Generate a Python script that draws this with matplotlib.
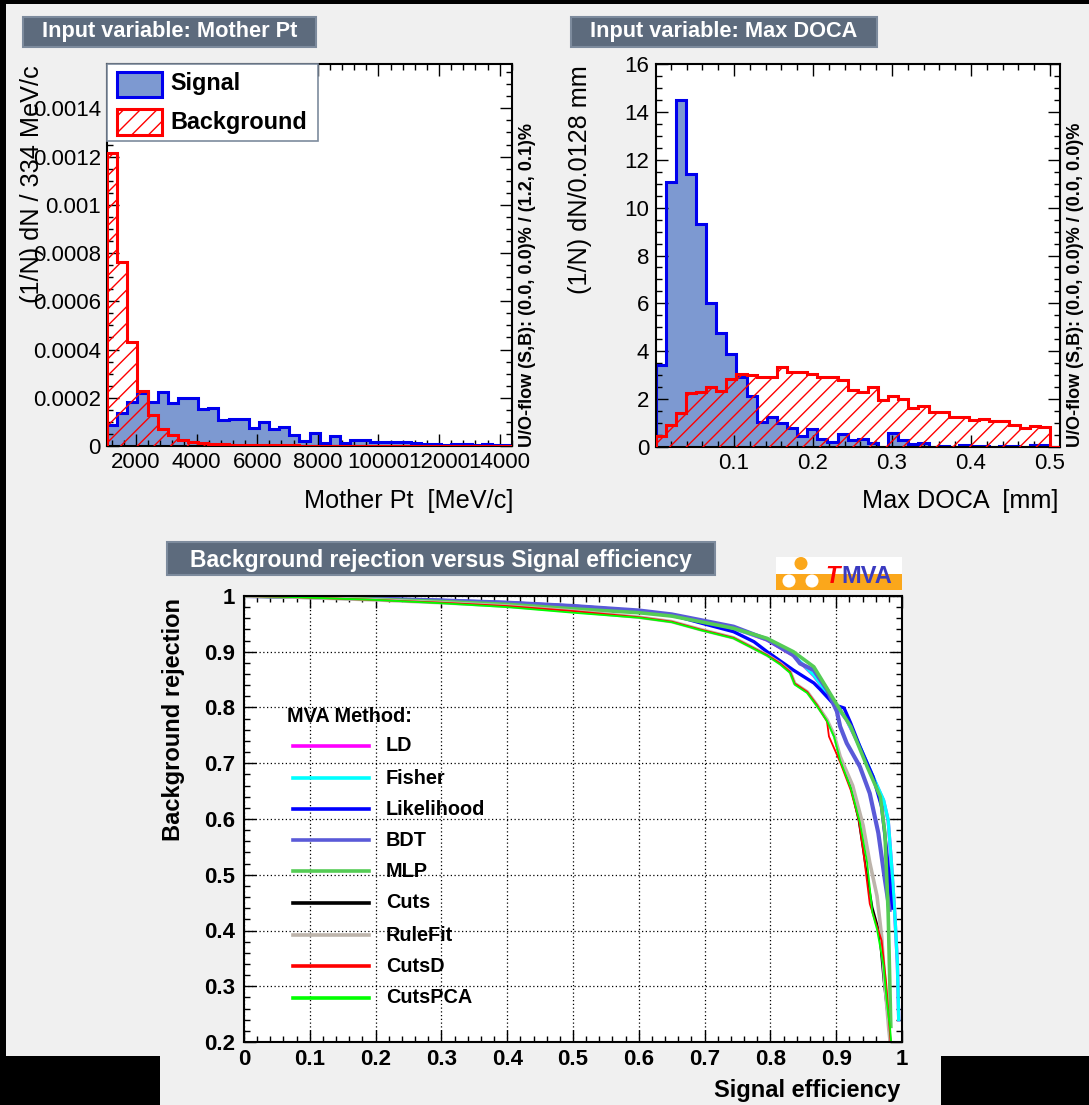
import numpy as np
import matplotlib
matplotlib.use("Agg")
import matplotlib.pyplot as plt
from matplotlib.patches import Rectangle, Ellipse
from matplotlib.ticker import MultipleLocator, FuncFormatter

# ---------------- data ----------------
pt_range = (1045, 14405)          # 40 bins of 334 MeV/c
pt_signal = [0.000087, 0.000138, 0.000184, 0.000218, 0.000184, 0.000225, 0.000177, 0.000198,
             0.000198, 0.000152, 0.000156, 0.000108, 0.000112, 0.000112, 0.000073, 0.000098,
             0.000069, 0.000080, 0.000046, 0.000021, 0.000052, 0.000014, 0.000043, 0.000011,
             0.000025, 0.000025, 0.000018, 0.000018, 0.000015, 0.000018, 0.000011, 0.000008,
             0.000007, 0.000006, 0.000008, 0.000007, 0.000005, 0.000007, 0.000004, 0.000003]
pt_background = [0.001213, 0.000764, 0.000432, 0.000228, 0.000128, 0.000069, 0.000046, 0.000025,
                 0.000016, 0.000012, 0.000009, 0.000007, 0.000006, 0.000005, 0.000004, 0.000004,
                 0.000003, 0.000003, 0.000003, 0.000002, 0.000002, 0.000002, 0.000002, 0.000002,
                 0.000001, 0.000001, 0.000001, 0.000001, 0.000001, 0.000001, 0.000001, 0.000001,
                 0.000001, 0.000001, 0.000001, 0.000001, 0.000001, 0.000001, 0.000001, 0.000001]

doca_range = (0.0006, 0.5126)     # 40 bins of 0.0128 mm
doca_signal = [3.43, 11.09, 14.5, 11.4, 9.3, 6.0, 4.78, 3.87, 2.91, 2.13,
               1.06, 1.24, 0.99, 0.78, 0.46, 0.74, 0.33, 0.22, 0.54, 0.29,
               0.32, 0.15, 0.0, 0.60, 0.29, 0.12, 0.15, 0.02, 0.03, 0.02,
               0.08, 0.05, 0.03, 0.02, 0.04, 0.03, 0.02, 0.07, 0.07, 0.02]
doca_background = [0.46, 0.92, 1.41, 2.24, 2.28, 2.49, 2.34, 2.83, 3.04, 3.01,
                   2.94, 2.94, 3.36, 3.15, 3.15, 3.05, 2.94, 2.94, 2.80, 2.38,
                   2.31, 2.49, 1.96, 2.13, 1.99, 1.62, 1.73, 1.48, 1.45, 1.27,
                   1.27, 1.13, 1.18, 1.09, 1.07, 0.92, 0.78, 0.88, 0.82, 0.0]

methods = ["LD", "Fisher", "Likelihood", "BDT", "MLP", "Cuts", "RuleFit", "CutsD", "CutsPCA"]

fisher_eff = [0, .05, .1, .2, .3, .4, .5, .6, .65, .693, .744, .795, .835, .866, .897, .916,
              .936, .956, .972, .979, .984, .989, .993, .995]
fisher_rej = [1, .999, .998, .995, .991, .987, .981, .972, .965, .955, .942, .922, .894, .858,
              .808, .778, .730, .676, .634, .598, .520, .431, .341, .240]
ld_eff = fisher_eff
ld_rej = [1, .999, .998, .995, .991, .987, .981, .972, .965, .955, .942, .921, .893, .857,
          .807, .777, .729, .675, .633, .597, .519, .430, .340, .240]
lik_eff = [0, .05, .1, .2, .3, .4, .5, .6, .65, .693, .744, .775, .795, .835, .866, .876, .897,
           .912, .922, .936, .956, .969, .976, .981, .984]
lik_rej = [1, .999, .998, .995, .992, .988, .982, .973, .966, .952, .936, .918, .900, .867, .844,
           .832, .805, .799, .772, .730, .676, .622, .550, .491, .440]
bdt_eff = [0, .05, .1, .2, .3, .4, .5, .6, .65, .693, .744, .795, .835, .845, .866, .886, .901,
           .906, .916, .936, .951, .964, .974, .981]
bdt_rej = [1, .999, .998, .995, .992, .988, .982, .974, .967, .957, .945, .922, .894, .879, .867,
           .832, .793, .766, .736, .694, .646, .575, .491, .437]
mlp_eff = [0, .05, .1, .2, .3, .4, .5, .6, .65, .693, .744, .795, .835, .866, .897, .922, .947,
           .967, .974, .979, .983]
mlp_rej = [1, .999, .998, .994, .990, .985, .977, .970, .964, .954, .942, .924, .900, .873, .813,
           .766, .694, .640, .575, .431, .228]
cuts_eff = [0, .05, .1, .2, .3, .4, .5, .6, .65, .693, .744, .795, .815, .830, .837, .856, .871,
            .886, .897, .906, .922, .934, .944, .955, .965, .972, .980, .983]
cuts_rej = [1, .999, .997, .993, .988, .982, .973, .962, .954, .940, .925, .894, .879, .864, .843,
            .828, .804, .778, .748, .706, .658, .598, .520, .442, .400, .310, .226, .195]
rulefit_eff = [0, .05, .1, .2, .3, .4, .5, .6, .65, .693, .744, .795, .815, .830, .837, .856,
               .871, .886, .897, .906, .925, .941, .951, .962, .969, .974, .980, .983]
rulefit_rej = [1, .999, .997, .993, .988, .982, .973, .962, .954, .940, .925, .894, .879, .864,
               .843, .828, .804, .778, .750, .712, .660, .588, .522, .462, .390, .305, .222, .190]
cutsd_eff = [0, .05, .1, .2, .3, .4, .5, .6, .65, .693, .744, .795, .815, .830, .837, .856, .871,
             .886, .889, .906, .922, .934, .941, .946, .951, .959, .969, .976, .981, .983]
cutsd_rej = [1, .999, .997, .993, .988, .982, .973, .962, .954, .940, .925, .894, .879, .864,
             .843, .828, .804, .775, .748, .702, .652, .600, .544, .496, .448, .418, .382, .305,
             .226, .195]
cutspca_eff = [0, .05, .1, .2, .3, .4, .45, .5, .6, .65, .693, .744, .795, .815, .830, .837, .856,
               .871, .886, .897, .906, .922, .936, .947, .955, .962, .972, .977, .982, .984]
cutspca_rej = [1, .999, .997, .993, .987, .980, .975, .970, .961, .953, .939, .924, .893, .877,
               .862, .841, .826, .802, .776, .747, .705, .656, .594, .522, .432, .402, .337,
               .271, .224, .190]

roc_eff = [ld_eff, fisher_eff, lik_eff, bdt_eff, mlp_eff, cuts_eff, rulefit_eff, cutsd_eff, cutspca_eff]
roc_rej = [ld_rej, fisher_rej, lik_rej, bdt_rej, mlp_rej, cuts_rej, rulefit_rej, cutsd_rej, cutspca_rej]

# ---------------- style ----------------
CANVAS = '#f0f0f0'
TITLE_BOX = '#5d6b7d'
TITLE_BORDER = '#7d8b9d'
SIG_FILL = '#7d99d1'
SIG_LINE = '#0000ee'
BKG = '#ff0000'
roc_colors = ['#ff00ff', '#00ffff', '#0000ff', '#5a5ad8', '#55cc55', '#000000', '#bdb4ab', '#ff0000', '#00ff00']
roc_lw = [2.4, 2.4, 2.4, 3.0, 2.6, 1.4, 2.6, 1.3, 1.3]

plt.rcParams['font.family'] = ['Liberation Sans', 'DejaVu Sans']
plt.rcParams['hatch.linewidth'] = 1.0

W, H = 1089, 1105
fig = plt.figure(figsize=(W / 100, H / 100), dpi=100)
fig.patch.set_facecolor(CANVAS)


def fx(px):
    return px / W


def fy(py):
    return 1 - py / H


def frect(x0, y0, x1, y1, **kw):
    fig.add_artist(Rectangle((fx(x0), fy(y1)), (x1 - x0) / W, (y1 - y0) / H,
                             transform=fig.transFigure, **kw))


# black borders of the composite image
frect(0, 0, W, 4, facecolor='black', edgecolor='none')
frect(0, 0, 6, H, facecolor='black', edgecolor='none')
frect(0, 1056, 160, H, facecolor='black', edgecolor='none')
frect(941, 1056, W, H, facecolor='black', edgecolor='none')


def title_box(x0, x1, y0, y1, text, baseline, size):
    frect(x0, y0, x1, y1, facecolor=TITLE_BOX, edgecolor=TITLE_BORDER, lw=1.5)
    fig.text(fx((x0 + x1) / 2), fy(baseline), text, color='white', fontsize=size,
             fontweight='bold', ha='center', va='baseline')


def style_axes(ax):
    ax.set_facecolor('white')
    for s in ax.spines.values():
        s.set_linewidth(1.5)
    ax.tick_params(which='both', direction='in', top=True, right=True, width=1.0, color='black')
    ax.tick_params(which='major', length=8.5)
    ax.tick_params(which='minor', length=4.3)


fmt_g = FuncFormatter(lambda v, p: '%g' % round(v, 8))

# ---------------- top-left: Mother Pt ----------------
title_box(23.4, 315.8, 17, 47, 'Input variable: Mother Pt', 37.3, 15.7)
ax1 = fig.add_axes([fx(107), fy(446), (512 - 107) / W, (446 - 64) / H])
style_axes(ax1)
e1 = np.linspace(pt_range[0], pt_range[1], len(pt_signal) + 1)
ax1.stairs(pt_signal, e1, fill=True, facecolor=SIG_FILL, edgecolor='none', lw=0, zorder=1)
ax1.stairs(pt_signal, e1, color=SIG_LINE, lw=2.2, zorder=2)
ax1.stairs(pt_background, e1, fill=True, facecolor='none', edgecolor=BKG, hatch='//', lw=0, zorder=3)
ax1.stairs(pt_background, e1, color=BKG, lw=2.2, zorder=4)
ax1.set_xlim(*pt_range)
ax1.set_ylim(0, 0.001584)
ax1.xaxis.set_major_locator(MultipleLocator(2000))
ax1.xaxis.set_minor_locator(MultipleLocator(400))
ax1.yaxis.set_major_locator(MultipleLocator(0.0002))
ax1.yaxis.set_minor_locator(MultipleLocator(0.00005))
ax1.yaxis.set_major_formatter(fmt_g)
ax1.tick_params(axis='both', labelsize=16)
ax1.tick_params(axis='x', pad=4.5)
ax1.tick_params(axis='y', pad=4.5)

# legend of top-left panel
ax1.add_patch(Rectangle((0, 0.798), 0.521, 0.202, transform=ax1.transAxes, facecolor='white',
                        edgecolor=TITLE_BORDER, lw=1.2, zorder=10, clip_on=False))
ax1.add_patch(Rectangle((0.0247, 0.9136), 0.111, 0.0654, transform=ax1.transAxes,
                        facecolor=SIG_FILL, edgecolor=SIG_LINE, lw=2.2, zorder=11))
ax1.add_patch(Rectangle((0.0247, 0.814), 0.111, 0.068, transform=ax1.transAxes,
                        facecolor='white', edgecolor=BKG, hatch='//', lw=2.2, zorder=11))
ax1.text(0.1556, 0.950, 'Signal', transform=ax1.transAxes, fontsize=16.8, fontweight='bold',
         va='center', ha='left', zorder=12)
ax1.text(0.1556, 0.848, 'Background', transform=ax1.transAxes, fontsize=16.8, fontweight='bold',
         va='center', ha='left', zorder=12)

fig.text(fx(32), fy(65), '(1/N) dN / 334 MeV/c', rotation=90, ha='center', va='top', fontsize=18.2)
fig.text(fx(513), fy(508), 'Mother Pt  [MeV/c]', ha='right', va='baseline', fontsize=18.2)
fig.text(fx(527), fy(447), 'U/O-flow (S,B): (0.0, 0.0)% / (1.2, 0.1)%', rotation=90,
         ha='center', va='bottom', fontsize=13, fontweight='bold')

# ---------------- top-right: Max DOCA ----------------
title_box(570.8, 876.8, 17, 47, 'Input variable: Max DOCA', 37.3, 15.7)
ax2 = fig.add_axes([fx(655.5), fy(447), (1060 - 655.5) / W, (447 - 64) / H])
style_axes(ax2)
e2 = np.linspace(doca_range[0], doca_range[1], len(doca_signal) + 1)
ax2.stairs(doca_signal, e2, fill=True, facecolor=SIG_FILL, edgecolor='none', lw=0, zorder=1)
ax2.stairs(doca_signal, e2, color=SIG_LINE, lw=2.2, zorder=2)
ax2.stairs(doca_background, e2, fill=True, facecolor='none', edgecolor=BKG, hatch='//', lw=0, zorder=3)
ax2.stairs(doca_background, e2, color=BKG, lw=2.2, zorder=4)
ax2.set_xlim(*doca_range)
ax2.set_ylim(0, 16)
ax2.xaxis.set_major_locator(MultipleLocator(0.1))
ax2.xaxis.set_minor_locator(MultipleLocator(0.02))
ax2.yaxis.set_major_locator(MultipleLocator(2))
ax2.yaxis.set_minor_locator(MultipleLocator(0.5))
ax2.xaxis.set_major_formatter(fmt_g)
ax2.yaxis.set_major_formatter(fmt_g)
ax2.tick_params(axis='both', labelsize=16)
ax2.tick_params(axis='x', pad=4.5)
ax2.tick_params(axis='y', pad=4.5)

fig.text(fx(579.5), fy(65), '(1/N) dN/0.0128 mm', rotation=90, ha='center', va='top', fontsize=18.2)
fig.text(fx(1058), fy(508), 'Max DOCA  [mm]', ha='right', va='baseline', fontsize=18.2)
fig.text(fx(1075), fy(447), 'U/O-flow (S,B): (0.0, 0.0)% / (0.0, 0.0)%', rotation=90,
         ha='center', va='bottom', fontsize=13, fontweight='bold')

# ---------------- bottom: ROC ----------------
title_box(167.3, 715, 541.8, 575, 'Background rejection versus Signal efficiency', 567, 16.5)

# TMVA logo
frect(776, 557, 902, 590, facecolor='white', edgecolor='none')
frect(776, 574, 902, 590, facecolor='#fba71b', edgecolor='none')
for cx, cy, r, c in [(801, 563.5, 6.5, '#fba71b'), (789, 581, 6.5, 'white'), (812, 581, 6.5, 'white')]:
    fig.add_artist(Ellipse((fx(cx), fy(cy)), 2 * r / W, 2 * r / H, transform=fig.transFigure,
                           facecolor=c, edgecolor='none'))
fig.text(fx(825), fy(583), 'T', color='#ff0000', fontsize=17, fontweight='bold', fontstyle='italic',
         ha='left', va='baseline')
fig.text(fx(841), fy(583), 'MVA', color='#3a3ac0', fontsize=17, fontweight='bold',
         ha='left', va='baseline')

ax3 = fig.add_axes([fx(244), fy(1042), 658 / W, 446 / H])
style_axes(ax3)
ax3.set_axisbelow(True)
ax3.grid(True, which='major', color='black', linestyle=(0, (1, 2)), lw=0.9)
for eff, rej, c, lw in zip(roc_eff, roc_rej, roc_colors, roc_lw):
    ax3.plot(eff, rej, color=c, lw=lw, solid_joinstyle='round')
ax3.set_xlim(0, 1)
ax3.set_ylim(0.2, 1.0)
xt = np.round(np.arange(0, 1.01, 0.1), 1)
yt = np.round(np.arange(0.2, 1.01, 0.1), 1)
ax3.set_xticks(xt, labels=['%g' % v for v in xt], fontsize=16, fontweight='bold')
ax3.set_yticks(yt, labels=['%g' % v for v in yt], fontsize=16, fontweight='bold')
ax3.xaxis.set_minor_locator(MultipleLocator(0.02))
ax3.yaxis.set_minor_locator(MultipleLocator(0.02))
ax3.tick_params(axis='x', pad=5)
ax3.tick_params(axis='y', pad=6.5)

# legend of ROC panel
ax3.text(0.0653, 0.7296, 'MVA Method:', transform=ax3.transAxes, fontsize=14.3, fontweight='bold',
         ha='left', va='center')
leg_y = [0.6637, 0.5919, 0.5224, 0.4529, 0.3823, 0.3117, 0.2399, 0.1704, 0.0993]
for name, c, y in zip(methods, roc_colors, leg_y):
    ax3.plot([0.0745, 0.19], [y, y], transform=ax3.transAxes, color=c, lw=2.6)
    ax3.text(0.2158, y, name, transform=ax3.transAxes, fontsize=14.3, fontweight='bold',
             ha='left', va='center')

fig.text(fx(173.5), fy(598), 'Background rejection', rotation=90, ha='center', va='top',
         fontsize=17, fontweight='bold')
fig.text(fx(900), fy(1097), 'Signal efficiency', ha='right', va='baseline',
         fontsize=17, fontweight='bold')

fig.savefig('out.png', dpi=100, facecolor=CANVAS)
